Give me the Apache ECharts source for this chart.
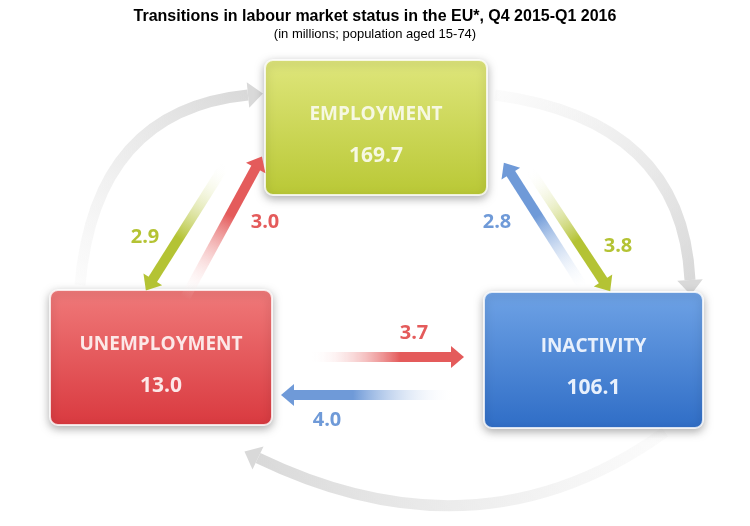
<!DOCTYPE html>
<html><head><meta charset="utf-8">
<script src="https://cdn.jsdelivr.net/npm/echarts@6/dist/echarts.min.js"></script>
<style>html,body{margin:0;background:#fff}#main{width:750px;height:526px}</style>
</head><body><div id="main"></div>
<script>
// labour market states and stocks (millions)
var statuses = ['EMPLOYMENT', 'UNEMPLOYMENT', 'INACTIVITY'];
var stocks = [169.7, 13.0, 106.1];
// flows between states: from index, to index, value
var flowFrom = [0, 1, 2, 0, 1, 2];
var flowTo = [1, 0, 0, 2, 2, 1];
var flowValues = [2.9, 3.0, 2.8, 3.8, 3.7, 4.0];

var boxes = [
  {x: 265, y: 60, w: 222, h: 135, c1: '#dfe67c', c2: '#b9c835', t: '#f6f8e2'},
  {x: 50, y: 290, w: 222, h: 135, c1: '#f07a7a', c2: '#d9393f', t: '#fce8e8'},
  {x: 484, y: 292, w: 219, h: 136, c1: '#6fa3e6', c2: '#2f6dc6', t: '#e8f0fc'}
];
var colors = ['#b4c334', '#e45b5b', '#6f9ad8'];
// arrow placement per flow: tail, head, label
var arrows = [
  {a: [225, 165], b: [148, 287], l: [145, 237]},
  {a: [185, 298], b: [260, 160], l: [265, 222]},
  {a: [585, 290], b: [506, 166], l: [497, 222]},
  {a: [530, 170], b: [608, 288], l: [618, 246]},
  {a: [310, 357], b: [460, 357], l: [414, 333]},
  {a: [455, 395], b: [285, 395], l: [327, 420]}
];

function head(x, y, dx, dy, size, color) {
  var len = Math.sqrt(dx * dx + dy * dy), ux = dx / len, uy = dy / len;
  var px = -uy, py = ux;
  return {type: 'polygon', shape: {points: [
    [x + ux * size, y + uy * size],
    [x + px * size * 0.85, y + py * size * 0.85],
    [x - px * size * 0.85, y - py * size * 0.85]
  ]}, style: {fill: color}};
}

var els = [];
// gray cycle arcs
var arcs = [
  [[80, 285], [95, 110], [248, 95]],
  [[495, 95], [682, 120], [690, 280]],
  [[665, 432], [480, 565], [258, 458]]
];
arcs.forEach(function (s) {
  var g = new echarts.graphic.LinearGradient(s[0][0], s[0][1], s[2][0], s[2][1],
    [{offset: 0, color: 'rgba(230,230,230,0.15)'}, {offset: 1, color: '#d9d9d9'}], true);
  els.push({type: 'bezierCurve', shape: {x1: s[0][0], y1: s[0][1], cpx1: s[1][0], cpy1: s[1][1], x2: s[2][0], y2: s[2][1]},
    style: {stroke: g, lineWidth: 11, fill: null}});
  els.push(head(s[2][0], s[2][1], s[2][0] - s[1][0], s[2][1] - s[1][1], 15, '#d9d9d9'));
});

statuses.forEach(function (name, i) {
  var b = boxes[i];
  els.push({type: 'rect', shape: {x: b.x, y: b.y, width: b.w, height: b.h, r: 8},
    style: {fill: new echarts.graphic.LinearGradient(0, 0, 0, 1, [{offset: 0, color: b.c1}, {offset: 1, color: b.c2}]),
      stroke: 'rgba(255,255,255,0.8)', lineWidth: 2, shadowBlur: 8, shadowColor: 'rgba(0,0,0,0.3)', shadowOffsetY: 3}});
  els.push({type: 'text', style: {x: b.x + b.w / 2, y: b.y + 55, text: name, fill: b.t, align: 'center', verticalAlign: 'middle',
    font: 'bold 19px "Open Sans", sans-serif'}});
  els.push({type: 'text', style: {x: b.x + b.w / 2, y: b.y + 96, text: stocks[i].toFixed(1), fill: b.t, align: 'center', verticalAlign: 'middle',
    font: 'bold 21px "Open Sans", sans-serif'}});
});

flowValues.forEach(function (v, i) {
  var ar = arrows[i], col = colors[flowFrom[i]];
  var g = new echarts.graphic.LinearGradient(ar.a[0], ar.a[1], ar.b[0], ar.b[1],
    [{offset: 0, color: 'rgba(255,255,255,0)'}, {offset: 0.6, color: col}, {offset: 1, color: col}], true);
  var dx = ar.b[0] - ar.a[0], dy = ar.b[1] - ar.a[1], len = Math.sqrt(dx * dx + dy * dy);
  els.push({type: 'line', shape: {x1: ar.a[0], y1: ar.a[1], x2: ar.b[0] - dx / len * 6, y2: ar.b[1] - dy / len * 6},
    style: {stroke: g, lineWidth: 10}});
  els.push(head(ar.b[0] - dx / len * 9, ar.b[1] - dy / len * 9, dx, dy, 13, col));
  els.push({type: 'text', style: {x: ar.l[0], y: ar.l[1], text: v.toFixed(1), fill: col, align: 'center', verticalAlign: 'middle',
    font: 'bold 20px "Open Sans", sans-serif'}});
});

var chart = echarts.init(document.getElementById('main'));
chart.setOption({
  title: {text: 'Transitions in labour market status in the EU*, Q4 2015-Q1 2016',
    subtext: '(in millions; population aged 15-74)', left: 'center', top: 4, itemGap: 3,
    textStyle: {fontFamily: 'Liberation Sans, Arial', fontWeight: 'bold', fontSize: 16, color: '#000'},
    subtextStyle: {fontFamily: 'Liberation Sans, Arial', fontSize: 13, color: '#000'}},
  graphic: els
});
</script></body></html>
